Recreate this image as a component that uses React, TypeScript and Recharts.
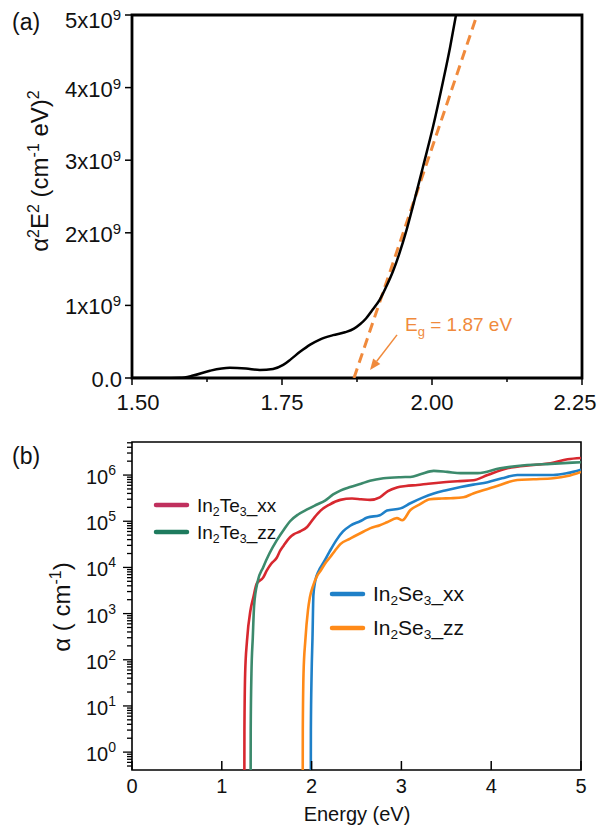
import React from "react";
import { LineChart, Line, XAxis, YAxis, ReferenceLine, ReferenceArea } from "recharts";

const FONT = '"Liberation Sans", Arial, Helvetica, sans-serif';

// ---- (a) Tauc plot, values in units of 1e9 (cm^-1 eV)^2
const taucEnergy = [1.5, 1.55, 1.58, 1.6, 1.63, 1.663, 1.69, 1.713, 1.735, 1.752, 1.765, 1.78, 1.797, 1.813, 1.835, 1.855, 1.87, 1.88, 1.89, 1.9, 1.913, 1.925, 1.935, 1.945, 1.958, 1.968, 1.985, 2.002, 2.018, 2.03, 2.04, 2.06];
const taucValue = [0, 0, 0.004, 0.03, 0.1, 0.14, 0.13, 0.11, 0.125, 0.18, 0.26, 0.36, 0.46, 0.53, 0.59, 0.63, 0.68, 0.74, 0.82, 0.93, 1.08, 1.28, 1.47, 1.7, 2.05, 2.36, 2.91, 3.47, 4.07, 4.55, 5.0, 5.8];
const fitEnergy = [1.87, 2.075];
const fitValue = [0, 5];
const taucXTicks = [1.5, 1.625, 1.75, 1.875, 2.0, 2.125, 2.25];
const taucXLabels = ["1.50", "", "1.75", "", "2.00", "", "2.25"];
const taucYTicks = [0, 1, 2, 3, 4, 5];
const taucYLabels = ["0.0", "1x10", "2x10", "3x10", "4x10", "5x10"];
const arrowFrom = { x: 1.9417, y: 0.594 };
const arrowTo = { x: 1.8967, y: 0.11 };

// ---- (b) absorption coefficient (cm^-1)
const teXxE = [1.25, 1.252, 1.26, 1.28, 1.32, 1.35, 1.39, 1.46, 1.5, 1.55, 1.61, 1.65, 1.69, 1.76, 1.8, 1.87, 1.95, 2.03, 2.1, 2.2, 2.32, 2.45, 2.55, 2.65, 2.76, 2.85, 2.95, 3.05, 3.18, 3.3, 3.47, 3.65, 3.8, 3.96, 4.18, 4.47, 4.66, 4.85, 5.0];
const teXxA = [0.01, 3, 50, 250, 1200, 2200, 4500, 6000, 8500, 12000, 16000, 23000, 30000, 45000, 52000, 60000, 75000, 120000, 170000, 230000, 290000, 310000, 300000, 290000, 330000, 450000, 540000, 580000, 610000, 650000, 700000, 740000, 770000, 1000000, 1400000, 1650000, 1800000, 2200000, 2350000];
const teZzE = [1.32, 1.322, 1.33, 1.345, 1.36, 1.4, 1.46, 1.53, 1.61, 1.7, 1.76, 1.85, 1.95, 2.06, 2.15, 2.24, 2.32, 2.43, 2.55, 2.65, 2.8, 2.99, 3.1, 3.22, 3.36, 3.51, 3.66, 3.85, 4.1, 4.4, 4.66, 5.0];
const teZzA = [0.01, 3, 50, 300, 1500, 5000, 10000, 20000, 38000, 70000, 100000, 140000, 180000, 230000, 280000, 380000, 460000, 550000, 650000, 750000, 850000, 900000, 910000, 1050000, 1230000, 1170000, 1100000, 1100000, 1400000, 1650000, 1750000, 1900000];
const seXxE = [1.99, 1.992, 2.0, 2.01, 2.02, 2.04, 2.08, 2.13, 2.2, 2.28, 2.35, 2.43, 2.54, 2.62, 2.76, 2.84, 2.99, 3.1, 3.23, 3.36, 3.5, 3.66, 3.8, 3.96, 4.12, 4.29, 4.47, 4.69, 4.85, 5.0];
const seXxA = [0.01, 3, 50, 300, 2500, 5000, 8500, 12500, 22000, 40000, 60000, 80000, 100000, 120000, 135000, 170000, 190000, 245000, 320000, 400000, 470000, 550000, 620000, 700000, 850000, 1000000, 1000000, 1000000, 1100000, 1300000];
const seZzE = [1.9, 1.902, 1.91, 1.93, 1.96, 1.98, 2.02, 2.06, 2.1, 2.16, 2.21, 2.26, 2.32, 2.43, 2.58, 2.65, 2.76, 2.84, 2.95, 3.01, 3.1, 3.2, 3.32, 3.45, 3.55, 3.69, 3.8, 4.03, 4.29, 4.47, 4.69, 4.85, 5.0];
const seZzA = [0.01, 3, 50, 260, 1200, 2200, 4200, 6500, 8500, 13000, 17000, 23000, 32000, 42000, 60000, 70000, 82000, 95000, 117000, 105000, 175000, 230000, 300000, 310000, 315000, 330000, 400000, 550000, 780000, 810000, 850000, 950000, 1170000];
const absXTicks = [0, 1, 2, 3, 4, 5];
const absDecades = [-1, 0, 1, 2, 3, 4, 5, 6];
const absMantissas = [1, 2, 3, 4, 5, 6, 7, 8, 9];

const absYMin = 0.41;
const absYMax = 5.2e6;

const zip = (xs: number[], ys: number[]) => xs.map((e, i) => ({ e, v: ys[i] }));

const absYTicks: number[] = [];
absDecades.forEach((d) =>
  absMantissas.forEach((m) => {
    const v = m * Math.pow(10, d);
    if (v >= absYMin && v <= absYMax) absYTicks.push(v);
  })
);

const TaucXTick = (props: any) => {
  const { x, y, payload } = props;
  const i = taucXTicks.indexOf(payload.value);
  const label = taucXLabels[i];
  const shift = i === 0 ? 6 : i === taucXTicks.length - 1 ? -7 : 0;
  return (
    <g>
      <line x1={x} x2={x} y1={y} y2={y + (label ? 7 : 4)} stroke="#000" strokeWidth={1.5} />
      {label && (
        <text x={x + shift} y={y + 32} textAnchor="middle" fontSize={22} fontFamily={FONT} fill="#111">
          {label}
        </text>
      )}
    </g>
  );
};

const TaucYTick = (props: any) => {
  const { x, y, payload } = props;
  const i = taucYTicks.indexOf(payload.value);
  const by = i === taucYTicks.length - 1 ? y + 13 : y + 9;
  return (
    <g>
      <line x1={x - 7} x2={x} y1={y} y2={y} stroke="#000" strokeWidth={1.5} />
      <text x={i === 0 ? x - 10 : x - 11} y={by} textAnchor="end" fontSize={22} fontFamily={FONT} fill="#111">
        {taucYLabels[i]}
        {i > 0 && (
          <tspan dy={-8} fontSize={15}>
            9
          </tspan>
        )}
      </text>
    </g>
  );
};

const AbsXTick = (props: any) => {
  const { x, y, payload } = props;
  return (
    <g>
      <line x1={x} x2={x} y1={y} y2={y - 9} stroke="#000" strokeWidth={1.5} />
      <text x={x} y={y + 23} textAnchor="middle" fontSize={20} fontFamily={FONT} fill="#111">
        {payload.value}
      </text>
    </g>
  );
};

const AbsYTick = (props: any) => {
  const { x, y, payload } = props;
  const lg = Math.log10(payload.value);
  const major = Math.abs(lg - Math.round(lg)) < 1e-6;
  return (
    <g>
      <line x1={x - (major ? 9 : 5)} x2={x} y1={y} y2={y} stroke="#000" strokeWidth={1.3} />
      {major && (
        <text x={x - 16} y={y + 9} textAnchor="end" fontSize={20} fontFamily={FONT} fill="#111">
          10
          <tspan dy={-9} fontSize={14}>
            {Math.round(lg)}
          </tspan>
        </text>
      )}
    </g>
  );
};

const EgArrow = (props: any) => {
  const { x1, y1, x2, y2 } = props;
  const ang = Math.atan2(y2 - y1, x2 - x1);
  const L = 11;
  const W = 4.5;
  const bx = x2 - L * Math.cos(ang);
  const by = y2 - L * Math.sin(ang);
  const px = -Math.sin(ang) * W;
  const py = Math.cos(ang) * W;
  return (
    <g>
      <line x1={x1} y1={y1} x2={bx} y2={by} stroke="#F08A3C" strokeWidth={1.5} />
      <polygon points={`${x2},${y2} ${bx + px},${by + py} ${bx - px},${by - py}`} fill="#F08A3C" />
      <text x={x1 + 8} y={y1 - 4} fontSize={19} fontFamily={FONT} fill="#F08A3C">
        E<tspan dy={5} fontSize={13}>g</tspan>
        <tspan dy={-5}> = 1.87 eV</tspan>
      </text>
    </g>
  );
};

const LegendItem = ({ x, y, color, base, tail, fs }: any) => (
  <g>
    <line x1={x} x2={x + 31} y1={y} y2={y} stroke={color} strokeWidth={4.5} strokeLinecap="round" />
    <text x={x + 41} y={y + 7} fontSize={fs} fontFamily={FONT} fill="#111">
      In<tspan dy={4} fontSize={fs * 0.65}>2</tspan>
      <tspan dy={-4}>{base}</tspan>
      <tspan dy={4} fontSize={fs * 0.65}>3</tspan>
      <tspan dy={-4}>{tail}</tspan>
    </text>
  </g>
);

export default function App() {
  const tauc = zip(taucEnergy, taucValue);
  const fit = zip(fitEnergy, fitValue);
  return (
    <div style={{ position: "absolute", left: 0, top: 0, width: 599, height: 825, background: "#fff", fontFamily: FONT }}>
      <div style={{ position: "absolute", left: 0, top: 0 }}>
        <LineChart width={599} height={430} margin={{ top: 15, right: 17, bottom: 12, left: 0 }}>
          <XAxis
            dataKey="e"
            type="number"
            domain={[1.5, 2.25]}
            ticks={taucXTicks}
            interval={0}
            allowDataOverflow
            height={40}
            axisLine={false}
            tickLine={false}
            tickSize={0}
            tickMargin={0}
            tick={<TaucXTick />}
          />
          <YAxis
            dataKey="v"
            type="number"
            domain={[0, 5]}
            ticks={taucYTicks}
            interval={0}
            allowDataOverflow
            width={132}
            axisLine={false}
            tickLine={false}
            tickSize={0}
            tickMargin={0}
            tick={<TaucYTick />}
          />
          <Line data={fit} dataKey="v" type="linear" stroke="#F08A3C" strokeWidth={3} strokeDasharray="10 6" dot={false} isAnimationActive={false} />
          <Line data={tauc} dataKey="v" type="monotone" stroke="#000" strokeWidth={2.5} dot={false} isAnimationActive={false} />
          <ReferenceArea x1={1.5} x2={2.25} y1={0} y2={5} fill="none" stroke="#000" strokeWidth={2.8} />
          <ReferenceLine segment={[arrowFrom, arrowTo]} shape={<EgArrow />} ifOverflow="visible" />
        </LineChart>
      </div>
      <div style={{ position: "absolute", left: 0, top: 440 }}>
        <LineChart width={599} height={385} margin={{ top: 2, right: 18, bottom: 25, left: 0 }}>
          <XAxis
            dataKey="e"
            type="number"
            domain={[0, 5]}
            ticks={absXTicks}
            interval={0}
            allowDataOverflow
            height={30}
            axisLine={false}
            tickLine={false}
            tickSize={0}
            tickMargin={0}
            tick={<AbsXTick />}
          />
          <YAxis
            dataKey="v"
            type="number"
            scale="log"
            domain={[absYMin, absYMax]}
            ticks={absYTicks}
            interval={0}
            allowDataOverflow
            width={132}
            axisLine={false}
            tickLine={false}
            tickSize={0}
            tickMargin={0}
            tick={<AbsYTick />}
          />
          <Line data={zip(teXxE, teXxA)} dataKey="v" type="monotone" stroke="#D7282F" strokeWidth={2.6} dot={false} isAnimationActive={false} />
          <Line data={zip(teZzE, teZzA)} dataKey="v" type="monotone" stroke="#3C8A6C" strokeWidth={2.6} dot={false} isAnimationActive={false} />
          <Line data={zip(seXxE, seXxA)} dataKey="v" type="monotone" stroke="#1F80C8" strokeWidth={2.6} dot={false} isAnimationActive={false} />
          <Line data={zip(seZzE, seZzA)} dataKey="v" type="monotone" stroke="#FF8A18" strokeWidth={2.6} dot={false} isAnimationActive={false} />
          <ReferenceArea x1={0} x2={5} y1={absYMin} y2={absYMax} fill="none" stroke="#000" strokeWidth={1.6} />
        </LineChart>
      </div>
      <svg width={599} height={825} style={{ position: "absolute", left: 0, top: 0, pointerEvents: "none" }}>
        <text x={12} y={30} fontSize={23} fontFamily={FONT} fill="#111">(a)</text>
        <text x={12} y={464} fontSize={23} fontFamily={FONT} fill="#111">(b)</text>
        <text transform="translate(48,171) rotate(-90)" textAnchor="middle" fontSize={24} fontFamily={FONT} fill="#111">
          α<tspan dy={-9} fontSize={16}>2</tspan>
          <tspan dy={9}>E</tspan>
          <tspan dy={-9} fontSize={16}>2</tspan>
          <tspan dy={9}> (cm</tspan>
          <tspan dy={-9} fontSize={16}>-1</tspan>
          <tspan dy={9}> eV)</tspan>
          <tspan dy={-9} fontSize={16}>2</tspan>
        </text>
        <text transform="translate(70,607) rotate(-90)" textAnchor="middle" fontSize={24} fontFamily={FONT} fill="#111">
          α ( cm<tspan dy={-9} fontSize={16}>-1</tspan>
          <tspan dy={9}>)</tspan>
        </text>
        <text x={357} y={821} textAnchor="middle" fontSize={20} fontFamily={FONT} fill="#111">Energy (eV)</text>
        <LegendItem x={156} y={505} color="#C0305E" base="Te" tail="_xx" fs={19} />
        <LegendItem x={156} y={532} color="#1E7B5E" base="Te" tail="_zz" fs={19} />
        <LegendItem x={332} y={594} color="#1F80C8" base="Se" tail="_xx" fs={21} />
        <LegendItem x={332} y={628} color="#FF8A18" base="Se" tail="_zz" fs={21} />
      </svg>
    </div>
  );
}
